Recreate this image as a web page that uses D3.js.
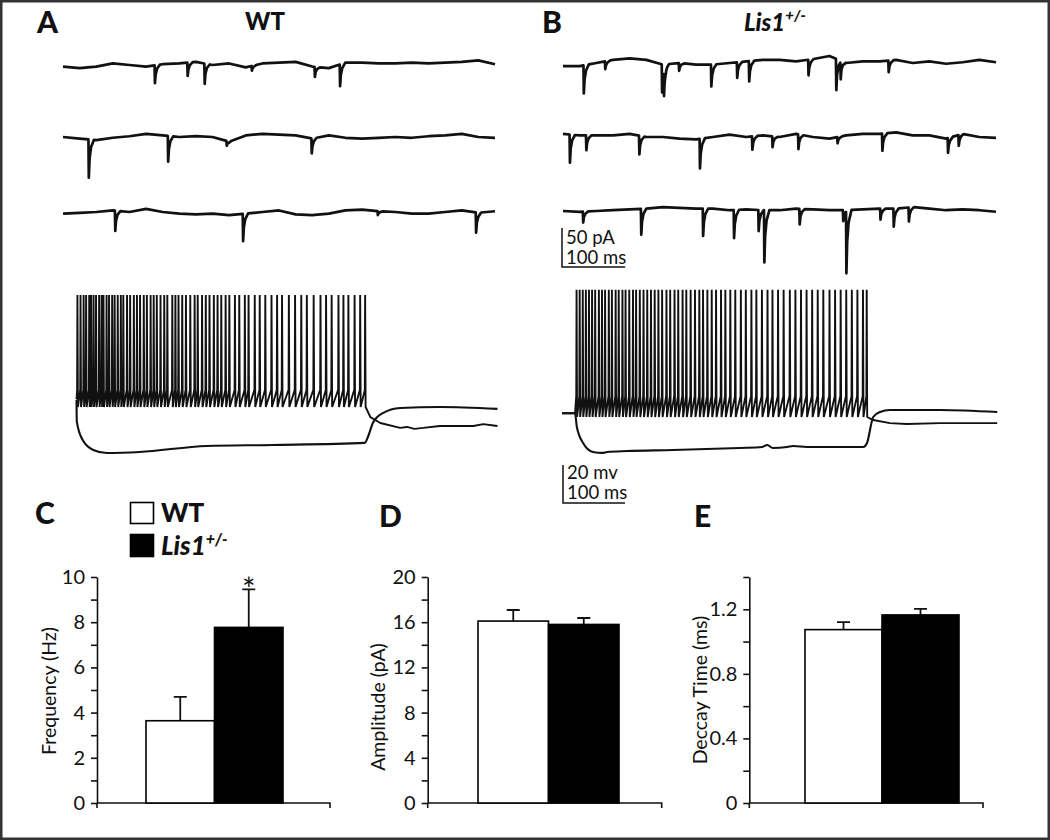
<!DOCTYPE html>
<html><head><meta charset="utf-8">
<script src="https://cdn.jsdelivr.net/npm/d3@7"></script>
<style>body{margin:0;background:#fff} svg{display:block} text{font-family:Lato,"Open Sans",sans-serif;fill:#111}</style>
</head><body><svg id="chart" width="1050" height="840"></svg>
<script>
// ---------- bar chart data ----------
const groups = ["WT", "Lis1+/-"];
const freqMean = [3.64, 7.77];
const freqSem = [1.06, 1.68];
const ampMean = [16.1, 15.8];
const ampSem = [0.98, 0.57];
const decayMean = [1.074, 1.165];
const decaySem = [0.047, 0.037];
const freqTicks = [0,1,2,3,4,5,6,7,8,9,10];
const freqTickLabels = [0,2,4,6,8,10];
const ampTicks = [0,2,4,6,8,10,12,14,16,18,20];
const ampTickLabels = [0,4,8,12,16,20];
const decayTicks = [0,0.2,0.4,0.6,0.8,1.0,1.2,1.4];
const decayTickLabels = [0,0.4,0.8,1.2];

// ---------- mEPSC traces (baseline in pA, sampled across the sweep; events [ms, pA]) ----------
const sweepMs = 686;
const wtBase1 = [-2,-4,-2,2,0,-2,1,2,4,0,2,-3,2,3,4,-2,-4,3,3,2,2,3,2,3,4,6,1];
const wtBase2 = [0,-2,-4,-1,1,4,2,0,1,0,-6,2,4,3,2,-2,2,-1,-2,-1,0,-1,1,2,4,0,-1];
const wtBase3 = [-2,-1,0,2,0,4,0,-2,-3,-2,-4,-2,0,2,-3,-4,-2,2,3,1,0,-2,-2,0,2,-1,1];
const lisBase1 = [-4,-4,0,4,6,4,-2,0,-2,-2,0,2,4,4,2,5,9,0,2,2,4,0,2,-1,1,4,1];
const lisBase2 = [4,2,2,2,4,0,0,-2,-3,0,3,0,2,0,4,0,-2,2,4,4,6,2,2,-2,4,0,-1];
const lisBase3 = [0,-1,0,1,2,3,5,4,3,3,1,2,1,1,3,2,1,1,2,3,3,5,3,1,2,1,-1];
const wtEvents1 = [[146,23],[198,17],[225,26],[300,6],[400,13],[440,28]];
const wtEvents2 = [[41,49],[167,33],[260,6],[395,19]];
const wtEvents3 = [[83,26],[286,35],[500,5],[656,26]];
const lisEvents1 = [[33,36],[67,10],[157,36],[160,31],[184,10],[235,28],[276,20],[295,26],[389,20],[433,40],[440,22],[516,15]];
const lisEvents2 = [[11,36],[37,19],[121,24],[217,38],[300,17],[332,14],[373,19],[435,8],[506,22],[610,19],[627,14]];
const lisEvents3 = [[32,14],[124,33],[222,35],[271,36],[310,27],[319,67],[375,20],[444,14],[449,79],[503,14],[524,23],[548,18]];

// ---------- current-clamp traces (ms, mV) ----------
const wtSpikeTimes = [1,6,11,15,20,23,27,31,36,40,43,48,52,57,61,66,71,75,81,86,92,97,102,108,113,119,124,129,135,141,146,154,159,164,170,176,183,190,195,202,208,214,221,227,233,240,246,255,262,271,277,287,295,304,314,323,331,342,352,362,371,382,393,402,411,422,430,438,448,457,465];
const lisSpikeTimes = [2,7,12,17,22,27,32,38,43,48,54,59,65,70,76,81,87,93,98,104,110,116,122,128,134,140,147,153,160,166,173,179,186,193,200,206,213,220,227,235,242,250,258,267,275,284,292,301,310,318,327,336,346,355,364,373,382,391,400,410,419,428,437,446,455,464,470];
const wtSpikeLevels = [-1, -51, -60];   // peak, threshold, trough
const lisSpikeLevels = [7, -49, -60];
const wtSpikePre = [[0,-56]];
const wtSpikePost = [[474,-65.3],[490,-68.4],[522,-71],[533,-70.5],[545,-71.5],[559,-71],[586,-70],[614,-70],[640,-70],[656,-69],[679,-70]];
const wtHyper = [[0,-56.3],[0.5,-67.7],[10,-77.4],[27,-82.6],[49,-84.2],[102,-83.7],[210,-80.5],[317,-80],[465,-78.9],[470,-75.8],[478,-68.4],[494,-63.2],[522,-60.5],[586,-60],[679,-61]];
const lisSpikePre = [[-21,-58],[0,-58]];
const lisSpikePost = [[481,-61.6],[508,-63.2],[535,-63.7],[589,-63.2],[681,-63.2]];
const lisHyper = [[-21,-58],[0,-58],[3,-65.3],[13,-73.7],[29,-78.4],[44,-78.9],[52,-78.4],[84,-77.9],[158,-77.4],[266,-76.3],[302,-75.8],[310,-74.7],[319,-76.3],[342,-75.8],[352,-75.3],[374,-75.8],[465,-75.8],[471,-73.7],[481,-60],[492,-57.4],[508,-56.3],[589,-56.3],[681,-57.4]];

// ---------- drawing ----------
const svg = d3.select("#chart");
svg.append("rect").attr("x",1.25).attr("y",1.25).attr("width",1047.5).attr("height",837.5)
  .attr("fill","#fff").attr("stroke","#333").attr("stroke-width",2.5);

function panelLabel(x, y, t) {
  svg.append("text").attr("x", x).attr("y", y).attr("font-size", 30).attr("font-weight", 900).text(t);
}
panelLabel(37, 33, "A"); panelLabel(542, 33, "B");
panelLabel(35, 524, "C"); panelLabel(379, 527, "D"); panelLabel(694, 527, "E");

svg.append("text").attr("x", 265).attr("y", 30).attr("text-anchor","middle")
  .attr("font-size", 24).attr("font-weight", 900).text("WT");
const tB = svg.append("text").attr("x", 744).attr("y", 31).attr("font-size", 24)
  .attr("font-weight", 900).attr("font-style","italic");
tB.append("tspan").text("Lis1");
tB.append("tspan").attr("font-size", 15).attr("dy", -10).text("+/-");

// mEPSC
function kernel(dt) {
  if (dt < -0.6 || dt > 8) return 0;
  if (dt < 0) return (dt + 0.6) / 0.6;
  if (dt < 1.2) return 1 - 0.5 * dt / 1.2;
  if (dt < 3.5) return 0.5 - 0.3 * (dt - 1.2) / 2.3;
  return 0.2 * (8 - dt) / 4.5;
}
function drawMepsc(base, events, xs, y0) {
  const step = sweepMs / (base.length - 1);
  const ys = d3.scaleLinear().domain([0, -50]).range([y0, y0 + 39]);
  const bt = base.map((v, i) => i * step);
  const baseAt = t => {
    const i = Math.min(base.length - 2, Math.floor(t / step));
    const f = (t - bt[i]) / step;
    return base[i] + (base[i + 1] - base[i]) * f;
  };
  let times = bt.slice();
  events.forEach(([t]) => [-0.6, 0, 1.2, 3.5, 8].forEach(d => times.push(t + d)));
  times = times.filter(t => t >= 0 && t <= sweepMs).sort((a, b) => a - b);
  const pts = times.map(t => [t, baseAt(t) - d3.sum(events, ([te, a]) => a * kernel(t - te))]);
  svg.append("path").datum(pts)
    .attr("d", d3.line().x(d => xs(d[0])).y(d => ys(d[1])))
    .attr("fill","none").attr("stroke","#111").attr("stroke-width",2.7).attr("stroke-linejoin","round");
}
const xMA = d3.scaleLinear().domain([0, sweepMs]).range([63, 495]);
const xMB = d3.scaleLinear().domain([0, sweepMs]).range([563, 996]);
drawMepsc(wtBase1, wtEvents1, xMA, 65);
drawMepsc(wtBase2, wtEvents2, xMA, 137);
drawMepsc(wtBase3, wtEvents3, xMA, 212);
drawMepsc(lisBase1, lisEvents1, xMB, 63);
drawMepsc(lisBase2, lisEvents2, xMB, 137);
drawMepsc(lisBase3, lisEvents3, xMB, 211);

// mEPSC scale bar
{
  const ys = d3.scaleLinear().domain([0, 50]).range([267, 228]);
  const x0 = xMB(0) - 1, x1 = x0 + (xMB(100) - xMB(0));
  svg.append("path").attr("d", `M${x0},${ys(50)}V${ys(0)}H${x1}`)
    .attr("fill","none").attr("stroke","#111").attr("stroke-width",1.5);
  svg.append("text").attr("x", x0 + 4).attr("y", 244).attr("font-size", 18.5).text("50 pA");
  svg.append("text").attr("x", x0 + 4).attr("y", 264).attr("font-size", 18.5).text("100 ms");
}

// current clamp
function spikeTrain(times, lv, pre, post) {
  const [pk, thr, tr] = lv;
  const pts = pre.slice();
  times.forEach(t => { pts.push([t, thr], [t + 0.5, pk], [t + 1.3, tr]); });
  return pts.concat(post);
}
function drawAP(xs, ys, times, lv, pre, post, hyper) {
  svg.append("path").datum(hyper)
    .attr("d", d3.line().x(d => xs(d[0])).y(d => ys(d[1])).curve(d3.curveMonotoneX))
    .attr("fill","none").attr("stroke","#111").attr("stroke-width",2.1);
  svg.append("path").datum(spikeTrain(times, lv, pre, post))
    .attr("d", d3.line().x(d => xs(d[0])).y(d => ys(d[1])))
    .attr("fill","none").attr("stroke","#111").attr("stroke-width",1.9).attr("stroke-linejoin","bevel");
}
const xAPA = d3.scaleLinear().domain([0, 679]).range([76.5, 497.5]);
const yAPA = d3.scaleLinear().domain([-60, -40]).range([407, 369]);
const xAPB = d3.scaleLinear().domain([-21, 681]).range([562, 997.2]);
const yAPB = d3.scaleLinear().domain([-60, -40]).range([417, 379]);
drawAP(xAPA, yAPA, wtSpikeTimes, wtSpikeLevels, wtSpikePre, wtSpikePost, wtHyper);
drawAP(xAPB, yAPB, lisSpikeTimes, lisSpikeLevels, lisSpikePre, lisSpikePost, lisHyper);

// AP scale bar
{
  const x0 = 563, yb = 503;
  const h = yAPB(-60) - yAPB(-40), w = xAPB(100) - xAPB(0);
  svg.append("path").attr("d", `M${x0},${yb - h}V${yb}H${x0 + w}`)
    .attr("fill","none").attr("stroke","#111").attr("stroke-width",1.5);
  svg.append("text").attr("x", x0 + 4).attr("y", 479).attr("font-size", 18.5).text("20 mv");
  svg.append("text").attr("x", x0 + 4).attr("y", 499).attr("font-size", 18.5).text("100 ms");
}

// bar charts
function barChart(o) {
  const y = d3.scaleLinear().domain(o.domain).range([803, 577]);
  const x = d3.scaleBand().domain(groups).range(o.band).padding(0);
  const g = svg.append("g");
  const ax = g.append("g").attr("transform", `translate(${o.ax0},0)`)
    .call(d3.axisLeft(y).tickValues(o.ticks).tickSize(6).tickSizeOuter(0).tickPadding(6)
      .tickFormat(d => o.labels.some(v => Math.abs(v - d) < 1e-9) ? o.fmt(d) : ""));
  ax.selectAll("path,line").attr("stroke","#111").attr("stroke-width",1.6);
  ax.selectAll("text").attr("font-size", 20).attr("font-family","Lato,sans-serif").attr("fill","#222");
  g.append("path").attr("d", `M${o.ax0},${y(0)}V${y(0) + 5}M${o.ax0},${y(0)}H${o.ax1}V${y(0) + 5}`)
    .attr("fill","none").attr("stroke","#111").attr("stroke-width",1.6);
  groups.forEach((k, i) => {
    const cx = x(k) + x.bandwidth() / 2;
    g.append("path").attr("d", `M${cx},${y(o.mean[i])}V${y(o.mean[i] + o.sem[i])}M${cx - 6.5},${y(o.mean[i] + o.sem[i])}H${cx + 6.5}`)
      .attr("stroke","#111").attr("stroke-width",1.8).attr("fill","none");
    g.append("rect").attr("x", x(k)).attr("y", y(o.mean[i])).attr("width", x.bandwidth())
      .attr("height", y(0) - y(o.mean[i])).attr("fill", i === 0 ? "#fff" : "#000")
      .attr("stroke","#000").attr("stroke-width",1.6);
  });
  g.append("text").attr("transform", `translate(${o.lx},${o.ly}) rotate(-90)`)
    .attr("text-anchor","middle").attr("font-size", 19.5).attr("fill","#222").text(o.title);
  return { x, y };
}
const c = barChart({ domain: [0, 10], band: [146, 283], ax0: 97, ax1: 330, mean: freqMean, sem: freqSem,
  ticks: freqTicks, labels: freqTickLabels, fmt: d3.format("d"), title: "Frequency (Hz)", lx: 56, ly: 691 });
barChart({ domain: [0, 20], band: [478, 619], ax0: 427.7, ax1: 661.7, mean: ampMean, sem: ampSem,
  ticks: ampTicks, labels: ampTickLabels, fmt: d3.format("d"), title: "Amplitude (pA)", lx: 385, ly: 707 });
barChart({ domain: [0, 1.4], band: [805, 959], ax0: 749.3, ax1: 983, mean: decayMean, sem: decaySem,
  ticks: decayTicks, labels: decayTickLabels, fmt: d => d === 0 ? "0" : d3.format(".1f")(d), title: "Deccay Time (ms)", lx: 707, ly: 690 });

// significance star
svg.append("text").attr("x", c.x(groups[1]) + c.x.bandwidth() / 2).attr("y", c.y(freqMean[1] + freqSem[1]) + 12)
  .attr("text-anchor","middle").attr("font-size", 32).text("*");

// legend
svg.append("rect").attr("x",130.5).attr("y",502.5).attr("width",23).attr("height",21)
  .attr("fill","#fff").attr("stroke","#000").attr("stroke-width",1.6);
svg.append("rect").attr("x",130.5).attr("y",534.5).attr("width",23).attr("height",22)
  .attr("fill","#000").attr("stroke","#000").attr("stroke-width",1.6);
svg.append("text").attr("x",161).attr("y",522).attr("font-size",26).attr("font-weight",900).text("WT");
const lg = svg.append("text").attr("x",161).attr("y",555).attr("font-size",26).attr("font-weight",900).attr("font-style","italic");
lg.append("tspan").text("Lis1");
lg.append("tspan").attr("font-size",16).attr("dy",-10).text("+/-");
</script></body></html>
